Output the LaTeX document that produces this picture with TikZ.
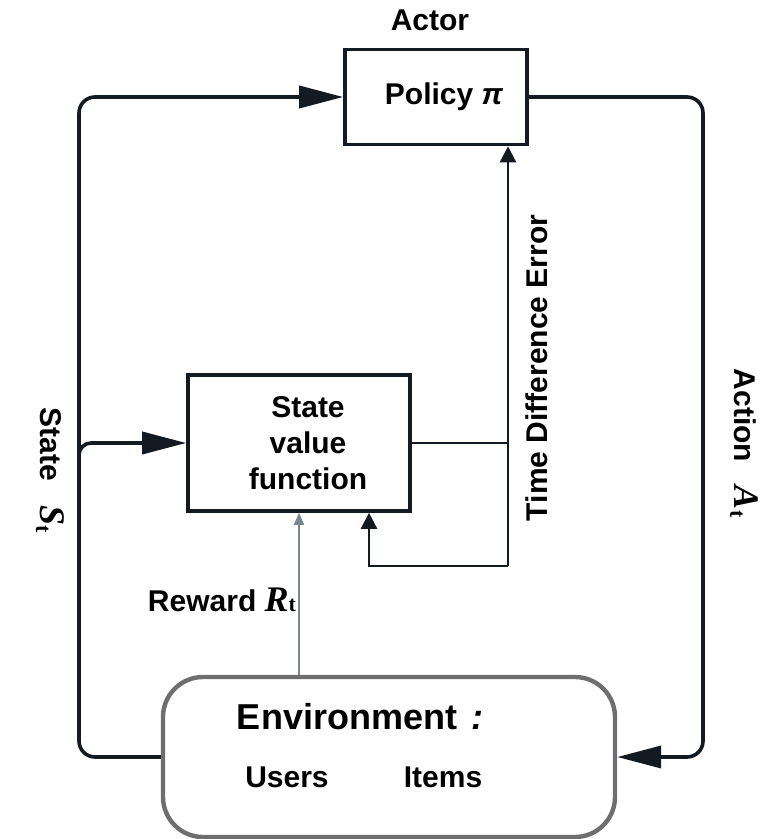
\documentclass[tikz,border=0pt]{standalone}
\usepackage{fontspec}
\setmainfont{Liberation Sans}
\newfontfamily\serifface{Liberation Serif}
\usetikzlibrary{positioning,arrows.meta,calc}
\definecolor{ink}{HTML}{141A22}
\definecolor{envgray}{HTML}{6E6E6E}
\definecolor{rewardgray}{HTML}{7A8590}
\newcommand{\symsub}[2]{{\serifface\itshape\fontsize{18}{18}\selectfont #1}\raisebox{-0.25ex}{\serifface\fontsize{11}{11}\selectfont #2}}

\begin{document}
\begin{tikzpicture}[x=0.5pt, y=-0.5pt, >=Latex,
  font=\bfseries\fontsize{15}{18}\selectfont,
  blockbox/.style={draw=ink, line width=1.8pt, align=center},
  mainline/.style={draw=ink, line width=1.8pt, rounded corners=8pt},
  tdline/.style={draw=ink, line width=1.2pt},
  bighead/.style={-{Triangle[length=22pt, width=11pt]}},
  smallhead/.style={-{Triangle[length=8pt, width=8pt]}}]
  \useasboundingbox (0,0) rectangle (769,839);

  \node[blockbox, minimum width=91pt, minimum height=47.5pt] (Policy) at (436,97) {\hspace{8pt}Policy {\itshape π}};
  \node[above=5pt of Policy, xshift=-3pt] (Actor) {Actor};
  \node[blockbox, minimum width=111pt, minimum height=68pt] (StateVal) at (299,443) {\hspace{9pt}State\\\hspace{9pt}value\\\hspace{9pt}function};
  \node[draw=envgray, line width=2.2pt, rounded corners=20pt, minimum width=226pt, minimum height=80pt] (Env) at (389,757) {};
  \node[font=\bfseries\fontsize{18}{20}\selectfont] (EnvTitle) at (360,717) {Environment\hspace{7pt}{\itshape :}};
  \node (Users) at (287,777) {Users};
  \node (Items) at (443,777) {Items};

  \coordinate (StateBus) at (79,97);
  \coordinate (ActBus) at (703,97);
  \coordinate (TDbot) at (508,566);

  % state goes to the actor and to the critic
  \draw[mainline, bighead] (Env.west) -| (StateBus) -- (Policy.west);
  \draw[mainline, rounded corners=6pt, bighead] ($(StateBus |- StateVal.west)+(0,24)$) |- (StateVal.west);
  % action back to the environment
  \draw[mainline, bighead] (Policy.east) -- (ActBus) |- (Env.east);

  % reward
  \draw[rewardgray, line width=0.8pt, -{Triangle[length=6pt, width=5pt]}] (StateVal.south |- Env.north) -- (StateVal.south);

  % time difference error
  \draw[tdline] (StateVal.east) -- (StateVal.east -| TDbot);
  \draw[tdline, smallhead] (TDbot) -- (TDbot |- Policy.south);
  \draw[tdline, smallhead] (TDbot) -| ([xshift=35pt]StateVal.south);

  \node[rotate=90] (TDLabel) at (537,368) {Time Difference Error};
  \node[rotate=-90] (ActLabel) at (744,443) {Action\hspace{12pt}\symsub{A}{t}};
  \node[rotate=-90] (StateLabel) at (50,470) {State\hspace{12pt}\symsub{S}{t}};
  \node (RewardLabel) at (222,600) {Reward {\serifface\bfseries\itshape\fontsize{18}{18}\selectfont R}{\serifface\fontsize{11}{11}\selectfont t}};
\end{tikzpicture}
\end{document}
